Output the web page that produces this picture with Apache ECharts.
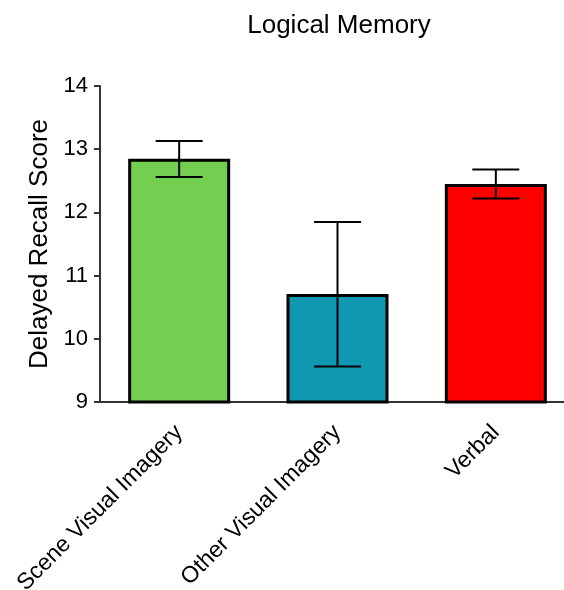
<!DOCTYPE html>
<html>
<head>
<meta charset="utf-8">
<script src="https://cdn.jsdelivr.net/npm/echarts@6/dist/echarts.min.js"></script>
<style>
  html, body { margin: 0; padding: 0; background: #fff; }
  #chart { width: 564px; height: 590px; }
</style>
</head>
<body>
<div id="chart"></div>
<script>
// Delayed recall means per strategy group, with error bar bounds
const categories = ['Scene Visual Imagery', 'Other Visual Imagery', 'Verbal'];
const means = [12.85, 10.71, 12.45];
const errLow = [12.56, 9.56, 12.22];
const errHigh = [13.13, 11.85, 12.68];
const barColors = ['#72cf4f', '#1097b1', '#ff0000'];
const yTicks = [9, 10, 11, 12, 13, 14];

const FONT = 'Liberation Sans, Arial, sans-serif';

const chart = echarts.init(document.getElementById('chart'), null, { renderer: 'canvas' });

const errorData = categories.map((c, i) => [i, errLow[i], errHigh[i]]);

chart.setOption({
  animation: false,
  backgroundColor: '#ffffff',
  title: {
    text: 'Logical Memory',
    left: 334,
    textAlign: 'center',
    top: 8,
    textStyle: { fontFamily: FONT, fontSize: 26, fontWeight: 'normal', color: '#000' }
  },
  // plot area runs past the right edge of the canvas; keep it at a fixed size
  grid: { left: 100, width: 475, top: 86, height: 316, containLabel: false, outerBoundsMode: 'none' },
  xAxis: {
    type: 'category',
    data: categories,
    boundaryGap: true,
    axisLine: { lineStyle: { color: '#333', width: 2 } },
    axisTick: { alignWithLabel: true, length: 9, lineStyle: { color: '#333', width: 2 } },
    axisLabel: {
      rotate: 45,
      margin: 27,
      fontFamily: FONT,
      fontSize: 23,
      color: '#000'
    }
  },
  yAxis: {
    type: 'value',
    min: yTicks[0],
    max: yTicks[yTicks.length - 1],
    interval: 1,
    name: 'Delayed Recall Score',
    nameLocation: 'middle',
    nameGap: 47,
    nameTextStyle: { fontFamily: FONT, fontSize: 26, color: '#000' },
    splitLine: { show: false },
    axisLine: { show: true, lineStyle: { color: '#333', width: 2 } },
    axisTick: { show: true, length: 6, lineStyle: { color: '#333', width: 2 } },
    axisLabel: { fontFamily: FONT, fontSize: 22, color: '#000', margin: 12 }
  },
  series: [
    {
      type: 'bar',
      barWidth: 102,
      data: means.map((v, i) => ({
        value: v,
        itemStyle: { color: barColors[i], borderColor: '#000', borderWidth: 3 }
      }))
    },
    {
      type: 'custom',
      data: errorData,
      z: 10,
      renderItem: function (params, api) {
        const x = api.value(0);
        const lo = api.coord([x, api.value(1)]);
        const hi = api.coord([x, api.value(2)]);
        const half = 23.5;
        const style = { stroke: '#000', lineWidth: 2 };
        return {
          type: 'group',
          children: [
            { type: 'line', shape: { x1: lo[0], y1: lo[1], x2: hi[0], y2: hi[1] }, style: style },
            { type: 'line', shape: { x1: hi[0] - half, y1: hi[1], x2: hi[0] + half, y2: hi[1] }, style: style },
            { type: 'line', shape: { x1: lo[0] - half, y1: lo[1], x2: lo[0] + half, y2: lo[1] }, style: style }
          ]
        };
      }
    }
  ]
});
</script>
</body>
</html>
